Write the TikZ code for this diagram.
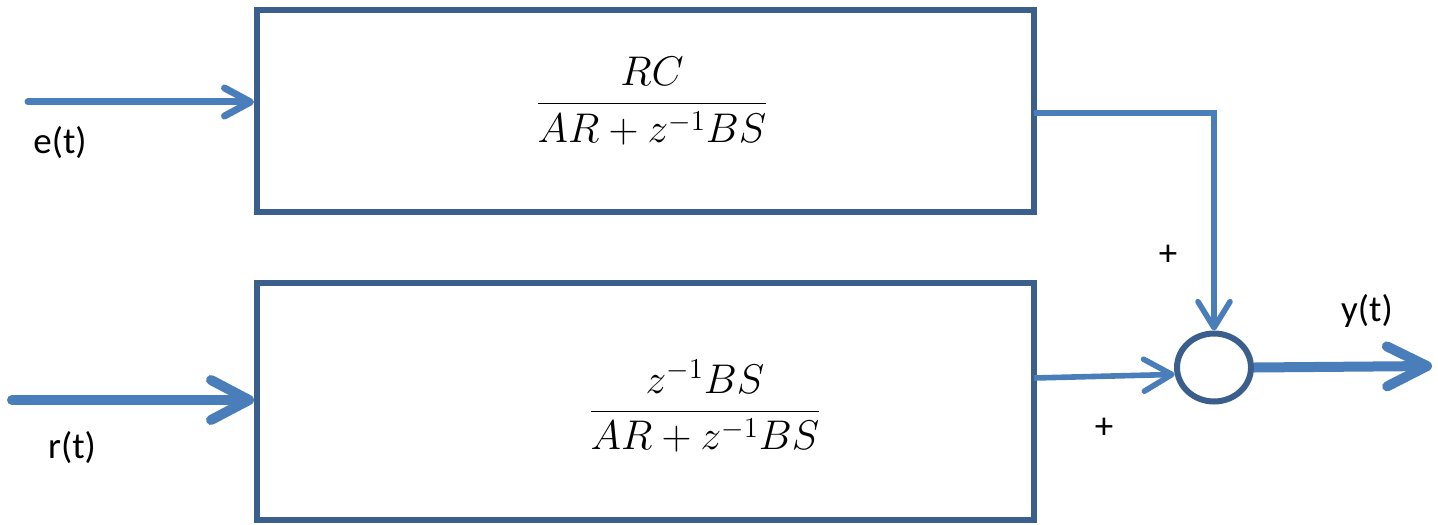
\documentclass[tikz,border=0pt]{standalone}
\usepackage{fontspec}
\setmainfont{Carlito}
\usetikzlibrary{arrows.meta,shapes.geometric}
\definecolor{boxblue}{RGB}{58,95,140}
\definecolor{linkblue}{RGB}{74,126,187}
\begin{document}
\begin{tikzpicture}[x=0.5pt,y=-0.5pt,
  block/.style={draw=boxblue,line width=3pt,rectangle,inner sep=0pt},
  sig/.style={draw=linkblue,line cap=round},
  lbl/.style={font=\fontsize{18.5}{22}\selectfont,inner sep=0pt},
  frac/.style={font=\fontsize{21}{25}\selectfont,inner sep=0pt}]
\useasboundingbox (0,0) rectangle (1438,524);
\node[block,minimum width=388.5pt,minimum height=101pt] (b1) at (645.5,111) {};
\node[block,minimum width=388.5pt,minimum height=118.5pt] (b2) at (645.5,401.5) {};
\node[draw=boxblue,line width=3pt,ellipse,minimum width=37pt,minimum height=34pt,inner sep=0pt] (sum) at (1214,367.5) {};
\node[frac] (f1) at (652,101) {$\displaystyle\frac{RC}{AR+z^{-1}BS}$};
\node[frac] (f2) at (705,406) {$\displaystyle\frac{z^{-1}BS}{AR+z^{-1}BS}$};
\coordinate (ein) at (28,102);
\coordinate (rin) at (12,400);
\coordinate (o1) at (1034,113);
\coordinate (o2) at (1034,378);
\coordinate (yout) at (1432,366);
\draw[sig,line width=3.5pt,-{Straight Barb[length=13pt,width=14pt,line cap=round,line join=round]}] (ein) -- (ein -| b1.west);
\draw[sig,line width=5pt,-{Straight Barb[length=19pt,width=20pt,line cap=round,line join=round]}] (rin) -- (rin -| b2.west);
\draw[sig,line width=2.8pt,line cap=butt,-{Straight Barb[length=13pt,width=16pt,line cap=round,line join=round]}] (o1) -| (sum.north);
\draw[sig,line width=2.8pt,line cap=butt,-{Straight Barb[length=14pt,width=16pt,line cap=round,line join=round]}] (o2) -- (sum.190);
\draw[sig,line width=5pt,line cap=butt,-{Straight Barb[length=20pt,width=20pt,line cap=round,line join=round]}] (sum.east) -- (yout);
\node[lbl] (le) at (60,143) {e(t)};
\node[lbl] (lr) at (72,448) {r(t)};
\node[lbl] (ly) at (1367,311) {y(t)};
\node[lbl] (p1) at (1168,255) {+};
\node[lbl] (p2) at (1104,428) {+};
\end{tikzpicture}
\end{document}
